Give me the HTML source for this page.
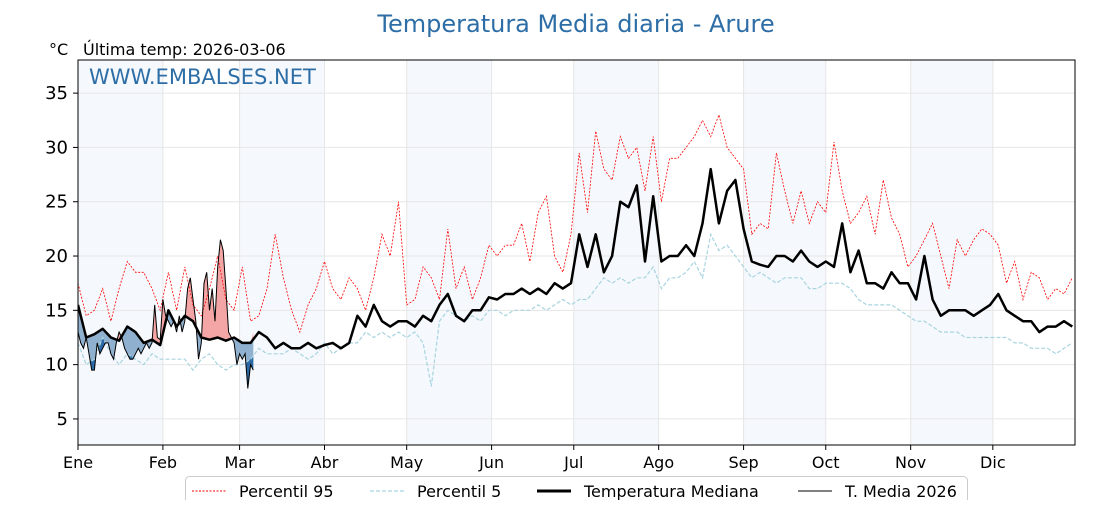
<!DOCTYPE html>
<html><head><meta charset="utf-8"><style>
body{margin:0;background:#fff;font-family:"Liberation Sans","DejaVu Sans",sans-serif;}
svg text{font-family:"DejaVu Sans","Liberation Sans",sans-serif;}
</style></head><body>
<svg id="c" width="1120" height="500" viewBox="0 0 1120 500" xmlns="http://www.w3.org/2000/svg">
<defs><clipPath id="plotclip"><rect x="78" y="60" width="997" height="385"/></clipPath>
<clipPath id="aboveMed"><path id="aboveMedPath"/></clipPath>
<clipPath id="belowMed"><path id="belowMedPath"/></clipPath>
<clipPath id="belowP5"><path id="belowP5Path"/></clipPath></defs>
<text x="576" y="32" text-anchor="middle" font-size="24" fill="#2e6ea6">Temperatura Media diaria - Arure</text>
<text x="49" y="55" font-size="16" fill="#000">°C</text>
<text x="83" y="55" font-size="16" fill="#000">Última temp: 2026-03-06</text>
<g id="bands"></g>
<g id="grid"></g>
<g id="fills" clip-path="url(#plotclip)"></g>
<g id="lines" clip-path="url(#plotclip)"></g>
<rect x="78" y="60" width="997" height="385" fill="none" stroke="#000" stroke-width="1"/>
<text x="89" y="84" font-size="21" fill="#2e6ea6">WWW.EMBALSES.NET</text>
<g id="axes"></g>
<g>
<rect x="185.5" y="476.5" width="782" height="30" rx="4" fill="#fff" stroke="#ccc"/>
<line x1="192" y1="491" x2="226" y2="491" stroke="red" stroke-width="1" stroke-dasharray="2,1.5"/>
<text x="239" y="497" font-size="16">Percentil 95</text>
<line x1="370" y1="491" x2="404" y2="491" stroke="#a8d4e0" stroke-width="1.3" stroke-dasharray="4,2"/>
<text x="417" y="497" font-size="16">Percentil 5</text>
<line x1="537" y1="491" x2="571" y2="491" stroke="#000" stroke-width="3"/>
<text x="584" y="497" font-size="16">Temperatura Mediana</text>
<line x1="798" y1="491" x2="832" y2="491" stroke="#000" stroke-width="1"/>
<text x="845" y="497" font-size="16">T. Media 2026</text>
</g>
</svg>
<script>
const monthLabels=["Ene","Feb","Mar","Abr","May","Jun","Jul","Ago","Sep","Oct","Nov","Dic"];
const monthStarts=[0,31,59,90,120,151,181,212,243,273,304,334];
const yTicks=[5,10,15,20,25,30,35];
const stepDays=3;
const median=[15.5,12.5,12.8,13.3,12.5,12.2,13.5,13,12,12.3,11.8,
15,13.5,14.5,14,12.5,12.3,12.5,12.2,12.5,
12,12,13,12.5,11.5,12,11.5,11.5,12,11.5,
11.8,12,11.5,12,14.5,13.5,15.5,14,13.5,14,
14,13.5,14.5,14,15.5,16.5,14.5,14,15,15,16.2,
16,16.5,16.5,17,16.5,17,16.5,17.5,17,17.5,
22,19,22,18.5,20,25,24.5,26.5,19.5,25.5,19.5,
20,20,21,20,23,28,23,26,27,22.5,
19.5,19.2,19,20,20,19.5,20.5,19.5,19,19.5,
19,23,18.5,20.5,17.5,17.5,17,18.5,17.5,17.5,
16,20,16,14.5,15,15,15,14.5,15,15.5,
16.5,15,14.5,14,14,13,13.5,13.5,14,13.5];
const p95=[17.5,14.5,15,17,14,17,19.5,18.5,18.5,17,15,
18.5,15,19,15.5,14.5,17,20,16,15,
19,14,14.5,17,22,18,15,13,15.5,17,
19.5,17,16,18,17,15,18,22,20,25,
15.5,16,19,18,16,22.5,17,19,16,18,21,
20,21,21,23,19.5,24,25.5,20,18.5,22,
29.5,24,31.5,28,27,31,29,30,26,31,25,
29,29,30,31,32.5,31,33,30,29,28,
22,23,22.5,29.5,26,23,26,23,25,24,
30.5,26,23,24,25.5,22,27,23.5,22,19,
20,21.5,23,20,17,21.5,20,21.5,22.5,22,
21,17.5,19.5,16,18.5,18,16,17,16.5,18];
const p5=[12,10,10.5,12.5,11,10,11,10.5,10,11,10.5,
10.5,10.5,10.5,9.5,10.5,11,10,9.5,10,
10,10.5,11.5,11,11,11,11.5,11,10.5,11,
12,11,11.5,12,12,13,12.5,13,12.5,13,
12.5,13,12,8,14,15,14.5,14,14.5,14,15,
15,14.5,15,15,15,15.5,15,15.5,16,15.5,
16,16,17,18,17.5,18,17.5,18,18,19,17,
18,18,18.5,19.5,18,22,20.5,21,20,19,
18,18.5,18,17.5,18,18,18,17,17,17.5,
17.5,17.5,17,16,15.5,15.5,15.5,15.5,15,14.5,
14,14,13.5,13,13,13,12.5,12.5,12.5,12.5,
12.5,12.5,12,12,11.5,11.5,11.5,11,11.5,12];
const t2026=[13,12,11.5,12.5,11,9.5,9.5,12,11,11.5,12,12,11,10.5,12,13,12.5,11.5,11,10.5,10.5,11,11.5,11,11.5,12,11.5,12,15.5,12.5,12.3,16,14.5,14,13.5,14,13,14.5,13,14,17,18,16,14,10.5,12,17.5,18.5,15,17,14,19,21.5,20.5,17,13,12.5,12,10,11,10.5,11,7.8,10,9.5];

const X0=78,X1=1075,DMAX=364,Y0=445,Y1=60,VMIN=2.6,VMAX=38.05;
const xs=d=>X0+(X1-X0)*d/DMAX;
const ys=v=>Y0-(Y0-Y1)*(v-VMIN)/(VMAX-VMIN);
const NS="http://www.w3.org/2000/svg";
function mk(tag,attrs,parent){const e=document.createElementNS(NS,tag);for(const k in attrs)e.setAttribute(k,attrs[k]);parent.appendChild(e);return e;}
const bands=document.getElementById('bands'),grid=document.getElementById('grid'),axes=document.getElementById('axes'),fills=document.getElementById('fills'),lines=document.getElementById('lines');
monthStarts.forEach((m,i)=>{
  if(i%2===0){const end=i+1<monthStarts.length?monthStarts[i+1]:DMAX;
    const r=mk('rect',{x:xs(m),y:Y1,width:xs(end)-xs(m),height:Y0-Y1,fill:'#f5f8fc'},bands);
    
    }
  const g=mk('line',{x1:xs(m),x2:xs(m),y1:Y1,y2:Y0,stroke:'#e6e6e6','stroke-width':1},grid);
  
  
  mk('line',{x1:xs(m),x2:xs(m),y1:Y0,y2:Y0+5,stroke:'#000'},axes);
  const t=mk('text',{x:xs(m),y:Y0+23,'font-size':16,'text-anchor':'middle'},axes);t.textContent=monthLabels[i];
  
  
});
yTicks.forEach(v=>{
  const g=mk('line',{x1:X0,x2:X1,y1:ys(v),y2:ys(v),stroke:'#e6e6e6','stroke-width':1},grid);
  
  
  mk('line',{x1:X0-5,x2:X0,y1:ys(v),y2:ys(v),stroke:'#000'},axes);
  const t=mk('text',{x:X0-10,y:ys(v)+6,'font-size':18,'text-anchor':'end'},axes);t.textContent=v;
  
  
});
const ptsStep=a=>a.map((v,i)=>xs(i*stepDays).toFixed(1)+','+ys(v).toFixed(1));
const ptsDay=a=>a.map((v,i)=>xs(i).toFixed(1)+','+ys(v).toFixed(1));
const medPts=ptsStep(median),p5Pts=ptsStep(p5);
document.getElementById('aboveMedPath').setAttribute('d','M'+xs(0)+','+(Y1-50)+' L'+medPts.join(' L')+' L'+xs(DMAX+3)+','+(Y1-50)+'Z');
document.getElementById('belowMedPath').setAttribute('d','M'+xs(0)+','+(Y0+50)+' L'+medPts.join(' L')+' L'+xs(DMAX+3)+','+(Y0+50)+'Z');
document.getElementById('belowP5Path').setAttribute('d','M'+xs(0)+','+(Y0+50)+' L'+p5Pts.join(' L')+' L'+xs(DMAX+3)+','+(Y0+50)+'Z');
const lastDay=t2026.length-1;
const medIn=median.map((v,i)=>[i*stepDays,v]).filter(p=>p[0]<=lastDay+stepDays);
const tp=ptsDay(t2026);
const fillD='M'+tp.join(' L')+' L'+medIn.slice().reverse().map(p=>xs(Math.min(p[0],lastDay)).toFixed(1)+','+ys(p[1]).toFixed(1)).join(' L')+'Z';
const fr=mk('path',{d:fillD,fill:'#f4a6a6','clip-path':'url(#aboveMed)'},fills);


const fb=mk('path',{d:fillD,fill:'#8fb0cf','clip-path':'url(#belowMed)'},fills);


const fd=mk('path',{d:fillD,fill:'#2b6aa6','clip-path':'url(#belowP5)'},fills);


const l95=mk('polyline',{points:ptsStep(p95).join(' '),fill:'none',stroke:'red','stroke-width':0.8,'stroke-dasharray':'2,1.5'},lines);


const l5=mk('polyline',{points:p5Pts.join(' '),fill:'none',stroke:'#a8d4e0','stroke-width':1.2,'stroke-dasharray':'4,2'},lines);


const lm=mk('polyline',{points:medPts.join(' '),fill:'none',stroke:'#000','stroke-width':2.5,'stroke-linejoin':'round'},lines);


const l26=mk('polyline',{points:tp.join(' '),fill:'none',stroke:'#000','stroke-width':1},lines);


</script>
</body></html>
